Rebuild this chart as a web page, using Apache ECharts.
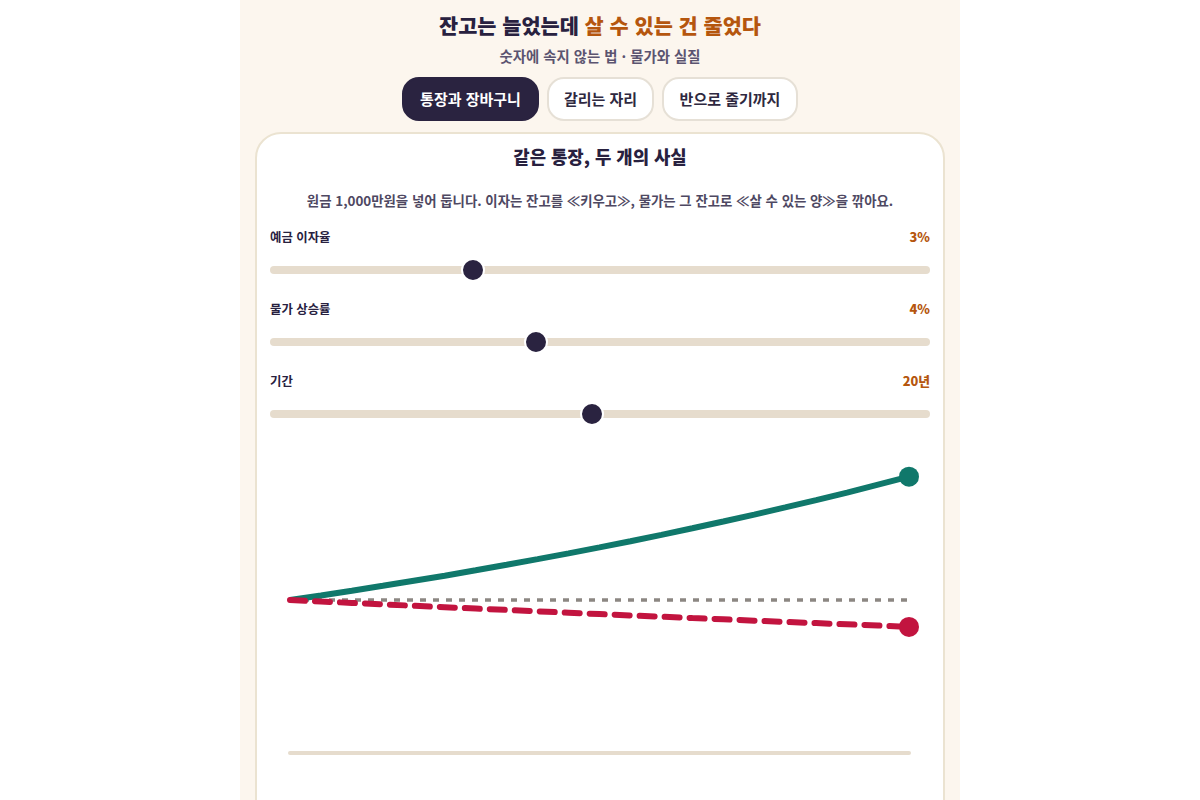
<!DOCTYPE html>
<html lang="ko">
<head>
<meta charset="utf-8">
<title>잔고는 늘었는데 살 수 있는 건 줄었다</title>
<script src="https://cdn.jsdelivr.net/npm/echarts@6/dist/echarts.min.js"></script>
<style>
  html, body { margin: 0; padding: 0; background: #ffffff; }
  body { width: 1200px; height: 800px; position: relative; overflow: hidden;
         font-family: "Noto Sans CJK KR", "Noto Sans", sans-serif; color: #28213f; }
  .panel { position: absolute; left: 240px; top: 0; width: 720px; height: 800px; background: #fcf6ee; }
  .abs { position: absolute; white-space: nowrap; }
  .title { left: 240px; width: 720px; top: 10px; height: 30px; line-height: 30px; text-align: center;
           font-size: 20.8px; font-weight: 900; }
  .title em { font-style: normal; color: #b5560e; }
  .sub { left: 240px; width: 720px; top: 46px; height: 20px; line-height: 20px; text-align: center;
         font-size: 14.4px; font-weight: 700; color: #5b5470; }
  .tab { top: 77px; height: 44px; line-height: 40px; box-sizing: border-box; border: 2px solid #e6e0d6;
         border-radius: 17px; background: #fff; text-align: center; font-size: 15px; font-weight: 700; color: #2e2840; }
  .tab.on { background: #2a2340; border-color: #2a2340; color: #fff; }
  .card { left: 255px; top: 132px; width: 690px; height: 720px; box-sizing: border-box;
          border: 2px solid #ebe3d1; border-radius: 26px; background: #fff; }
  .ctitle { left: 255px; width: 690px; top: 144px; height: 24px; line-height: 24px; text-align: center;
            font-size: 17.8px; font-weight: 900; }
  .desc { left: 255px; width: 690px; top: 190px; height: 20px; line-height: 20px; text-align: center;
          font-size: 13.4px; font-weight: 700; color: #4e4862; }
  .lab { left: 270px; height: 18px; line-height: 18px; font-size: 12.4px; font-weight: 700; color: #28213f; }
  .val { right: 270px; height: 18px; line-height: 18px; font-size: 12.8px; font-weight: 800; color: #b5560e; text-align: right; }
  input[type=range] { -webkit-appearance: none; appearance: none; position: absolute; left: 270px; width: 660px;
                      height: 8px; margin: 0; padding: 0; background: transparent; }
  input[type=range]::-webkit-slider-runnable-track { height: 8px; background: #e6dccd; border-radius: 4px; }
  input[type=range]::-webkit-slider-thumb { -webkit-appearance: none; width: 24px; height: 24px; box-sizing: border-box;
                      border-radius: 50%; background: #2a2340; border: 2px solid #fff; margin-top: -8px; }
  #chart { position: absolute; left: 270px; top: 440px; width: 660px; height: 360px; }
</style>
</head>
<body>
<div class="panel"></div>
<div class="abs title">잔고는 늘었는데 <em>살 수 있는 건 줄었다</em></div>
<div class="abs sub">숫자에 속지 않는 법 · 물가와 실질</div>
<div class="abs tab on" style="left:402px;width:137px;">통장과 장바구니</div>
<div class="abs tab" style="left:547px;width:107px;">갈리는 자리</div>
<div class="abs tab" style="left:662px;width:136px;">반으로 줄기까지</div>

<div class="abs card"></div>
<div class="abs ctitle">같은 통장, 두 개의 사실</div>
<div class="abs desc">원금 1,000만원을 넣어 둡니다. 이자는 잔고를 ≪키우고≫, 물가는 그 잔고로 ≪살 수 있는 양≫을 깎아요.</div>

<div class="abs lab" style="top:228px;">예금 이자율</div>
<div class="abs val" style="top:228px;" id="v-rate">3%</div>
<input type="range" id="s-rate" min="0" max="10" step="0.5" value="3" style="top:266px;">

<div class="abs lab" style="top:300px;">물가 상승률</div>
<div class="abs val" style="top:300px;" id="v-infl">4%</div>
<input type="range" id="s-infl" min="0" max="10" step="0.5" value="4" style="top:338px;">

<div class="abs lab" style="top:372px;">기간</div>
<div class="abs val" style="top:372px;" id="v-years">20년</div>
<input type="range" id="s-years" min="1" max="40" step="1" value="20" style="top:410px;">

<div id="chart"></div>

<script>
// 기간(년)
const years = [0, 1, 2, 3, 4, 5, 6, 7, 8, 9, 10, 11, 12, 13, 14, 15, 16, 17, 18, 19, 20]
// 통장 잔고 (만원)
const nominal = [1000, 1030, 1061, 1093, 1126, 1159, 1194, 1230, 1267, 1305, 1344,
                 1384, 1426, 1469, 1513, 1558, 1605, 1653, 1702, 1754, 1806]
// 살 수 있는 양 (오늘 돈 기준, 만원)
const real = [1000, 990, 981, 972, 962, 953, 944, 935, 926, 917, 908,
              899, 891, 882, 874, 865, 857, 849, 841, 833, 824]
// 원금
const principal = 1000

const colors = {
    nominal: '#10786b',
    real: '#c2143f',
    base: '#8c8782',
    axis: '#e6dccd'
}

const last = years.length - 1
// 마지막 점에만 동그라미
const endDot = (v, params) => (params.dataIndex === last ? 20 : 0)

const myChart = echarts.init(document.getElementById('chart'))
const options = {
    animation: false,
    grid: { left: 20, right: 21, top: 7, bottom: 47 },
    xAxis: {
        type: 'value',
        min: years[0],
        max: years[last],
        axisLine: { show: true, lineStyle: { color: colors.axis, width: 4 } },
        axisTick: { show: false },
        axisLabel: { show: false },
        splitLine: { show: false }
    },
    yAxis: {
        type: 'value',
        min: 0,
        max: 2000,
        show: false,
        splitLine: { show: false }
    },
    series: [
        {
            name: '원금',
            type: 'line',
            data: [[years[0], principal], [years[last], principal]],
            symbol: 'none',
            silent: true,
            lineStyle: { color: colors.base, width: 3.5, type: [6, 7] },
            z: 1
        },
        {
            name: '통장 잔고',
            type: 'line',
            data: years.map((y, i) => [y, nominal[i]]),
            symbol: 'circle',
            symbolSize: endDot,
            showSymbol: true,
            itemStyle: { color: colors.nominal },
            lineStyle: { color: colors.nominal, width: 6 },
            z: 2
        },
        {
            name: '살 수 있는 양',
            type: 'line',
            data: years.map((y, i) => [y, real[i]]),
            symbol: 'circle',
            symbolSize: endDot,
            showSymbol: true,
            itemStyle: { color: colors.real },
            lineStyle: { color: colors.real, width: 6, type: [15, 10], cap: 'round' },
            z: 3
        }
    ]
}
myChart.setOption(options)
</script>
</body>
</html>
